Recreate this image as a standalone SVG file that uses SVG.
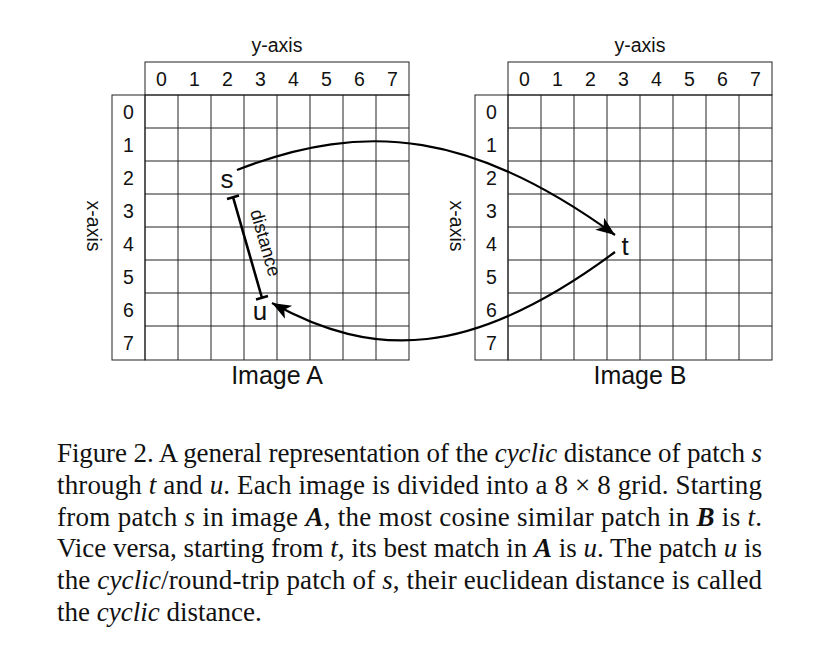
<svg xmlns="http://www.w3.org/2000/svg" width="827" height="660" viewBox="0 0 827 660">
<style>
.g{fill:none;stroke:#222;stroke-width:1}
.sans{font-family:"Liberation Sans",Arial,sans-serif;fill:#111}
.num{font-size:19.5px;text-anchor:middle}
.ax{font-size:19.5px;text-anchor:middle}
.img{font-size:25px;text-anchor:middle}
.lbl{font-size:26px;text-anchor:middle}
.cap{font-family:"Liberation Serif","Times New Roman",serif;font-size:27px;fill:#111}
.it{font-style:italic}
.bi{font-style:italic;font-weight:bold}
.arr{fill:none;stroke:#000;stroke-width:2.2}
</style>
<defs>
<marker id="ah" markerUnits="userSpaceOnUse" viewBox="-20 -9 22 18" refX="0" refY="0" markerWidth="22" markerHeight="18" orient="auto">
<path d="M0,0 L-19,-7.5 L-14,0 L-19,7.5 Z" fill="#000"/>
</marker>
<g id="grid">
<rect class="g" x="33" y="0" width="264" height="33"/>
<rect class="g" x="0" y="33" width="33" height="265"/>
<rect class="g" x="33" y="33" width="264" height="265"/>
<path class="g" d="M66,33V298M99,33V298M132,33V298M165,33V298M198,33V298M231,33V298M264,33V298M33,66H297M33,99H297M33,132H297M33,165H297M33,198H297M33,231H297M33,264H297"/>
<g class="sans num">
<text x="49.5" y="23.5">0</text><text x="82.5" y="23.5">1</text><text x="115.5" y="23.5">2</text><text x="148.5" y="23.5">3</text><text x="181.5" y="23.5">4</text><text x="214.5" y="23.5">5</text><text x="247.5" y="23.5">6</text><text x="280.5" y="23.5">7</text>
<text x="16.5" y="56.5">0</text><text x="16.5" y="89.5">1</text><text x="16.5" y="122.5">2</text><text x="16.5" y="155.5">3</text><text x="16.5" y="188.5">4</text><text x="16.5" y="221.5">5</text><text x="16.5" y="254.5">6</text><text x="16.5" y="287.5">7</text>
</g>
</g>
</defs>
<g id="imageA">
<use href="#grid" x="112" y="62"/>
<text class="sans ax" x="277" y="52">y-axis</text>
<text class="sans ax" transform="translate(87,226) rotate(90)">x-axis</text>
<text class="sans img" x="277" y="384">Image A</text>
</g>
<g id="imageB">
<use href="#grid" x="475" y="62"/>
<text class="sans ax" x="640" y="52">y-axis</text>
<text class="sans ax" transform="translate(450,226) rotate(90)">x-axis</text>
<text class="sans img" x="640" y="384">Image B</text>
</g>
<g id="patch-s"><text class="sans lbl" x="227" y="188">s</text></g>
<g id="patch-u"><text class="sans lbl" x="260" y="320">u</text></g>
<g id="patch-t"><text class="sans lbl" x="625" y="255">t</text></g>
<g id="connectors">
<path class="arr" d="M237,170 C367,119 475,133 615,235" marker-end="url(#ah)"/>
<path class="arr" d="M615,252 C470,360 373,359 272,303" marker-end="url(#ah)"/>
<g id="distance">
<path d="M233,197 L262,298 M227,199 L239,195.5 M256,299.5 L268,296" stroke="#000" stroke-width="2.6" fill="none"/>
<text class="sans" font-size="18.5" text-anchor="middle" transform="translate(259.5,244.5) rotate(74)">distance</text>
</g>
</g>
<g id="caption" class="cap">
<text x="57" y="462" textLength="705" lengthAdjust="spacing">Figure 2. A general representation of the <tspan class="it">cyclic</tspan> distance of patch <tspan class="it">s</tspan></text>
<text x="57" y="494" textLength="705" lengthAdjust="spacing">through <tspan class="it">t</tspan> and <tspan class="it">u</tspan>. Each image is divided into a 8 × 8 grid. Starting</text>
<text x="57" y="526" textLength="705" lengthAdjust="spacing">from patch <tspan class="it">s</tspan> in image <tspan class="bi">A</tspan>, the most cosine similar patch in <tspan class="bi">B</tspan> is <tspan class="it">t</tspan>.</text>
<text x="57" y="557" textLength="705" lengthAdjust="spacing">Vice versa, starting from <tspan class="it">t</tspan>, its best match in <tspan class="bi">A</tspan> is <tspan class="it">u</tspan>. The patch <tspan class="it">u</tspan> is</text>
<text x="57" y="589" textLength="705" lengthAdjust="spacing">the <tspan class="it">cyclic</tspan>/round-trip patch of <tspan class="it">s</tspan>, their euclidean distance is called</text>
<text x="57" y="621">the <tspan class="it">cyclic</tspan> distance.</text>
</g>
</svg>
